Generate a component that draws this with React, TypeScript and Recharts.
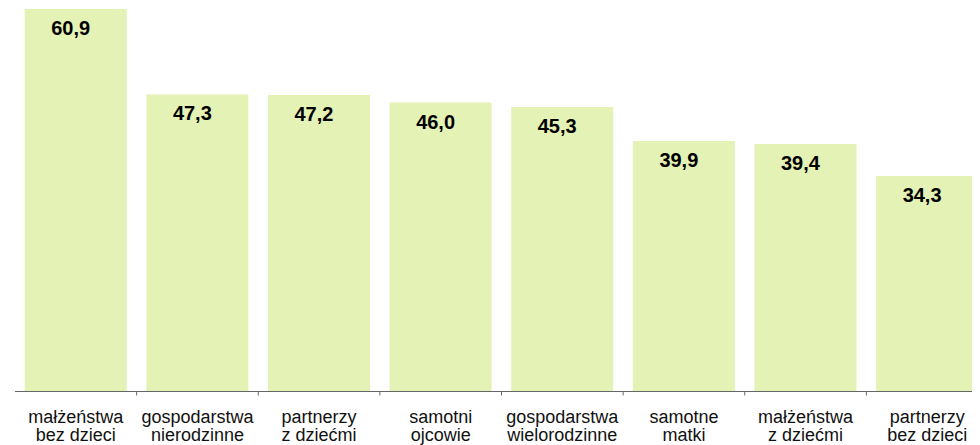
import React from "react";
import { BarChart, Bar, XAxis, YAxis, LabelList } from "recharts";

const categories: string[][] = [
  ["małżeństwa", "bez dzieci"],
  ["gospodarstwa", "nierodzinne"],
  ["partnerzy", "z dziećmi"],
  ["samotni", "ojcowie"],
  ["gospodarstwa", "wielorodzinne"],
  ["samotne", "matki"],
  ["małżeństwa", "z dziećmi"],
  ["partnerzy", "bez dzieci"],
];
const values: number[] = [60.9, 47.3, 47.2, 46.0, 45.3, 39.9, 39.4, 34.3];

const data = categories.map((c, i) => ({ name: c.join("\n"), value: values[i] }));

const FONT = "'Liberation Sans', Arial, sans-serif";

const CatTick = (props: any) => {
  const { x, y, payload, width, visibleTicksCount } = props;
  const band = width / visibleTicksCount;
  const lines = String(payload.value).split("\n");
  return (
    <g>
      {payload.index > 0 && (
        <line x1={x - band / 2} x2={x - band / 2} y1={y} y2={y + 4} stroke="#666" strokeWidth={1} />
      )}
      <text x={x} y={y} textAnchor="middle" fontFamily={FONT} fontSize={18} fill="#111">
        {lines.map((l, i) => (
          <tspan key={i} x={x} dy={i === 0 ? 31 : 18.5}>
            {l}
          </tspan>
        ))}
      </text>
    </g>
  );
};

const ValueLabel = (props: any) => {
  const { x, y, width, value } = props;
  return (
    <text
      x={x + width / 2 - 5}
      y={y + 26}
      textAnchor="middle"
      fontFamily={FONT}
      fontWeight="bold"
      fontSize={20}
      fill="#000"
    >
      {Number(value).toFixed(1).replace(".", ",")}
    </text>
  );
};

export default function App() {
  return (
    <div style={{ width: 980, height: 445, background: "#fff" }}>
      <BarChart
        width={980}
        height={445}
        data={data}
        margin={{ top: 1, right: 0, left: 7, bottom: 0 }}
        barCategoryGap="8%"
      >
        <YAxis hide domain={[0, "dataMax"]} />
        <XAxis
          dataKey="name"
          height={61.5}
          axisLine={{ stroke: "#666", strokeWidth: 1 }}
          tickLine={false}
          tickSize={0}
          tickMargin={0}
          interval={0}
          tick={<CatTick />}
        />
        <Bar dataKey="value" fill="#E4F2B5" isAnimationActive={false}>
          <LabelList dataKey="value" content={<ValueLabel />} />
        </Bar>
      </BarChart>
    </div>
  );
}
